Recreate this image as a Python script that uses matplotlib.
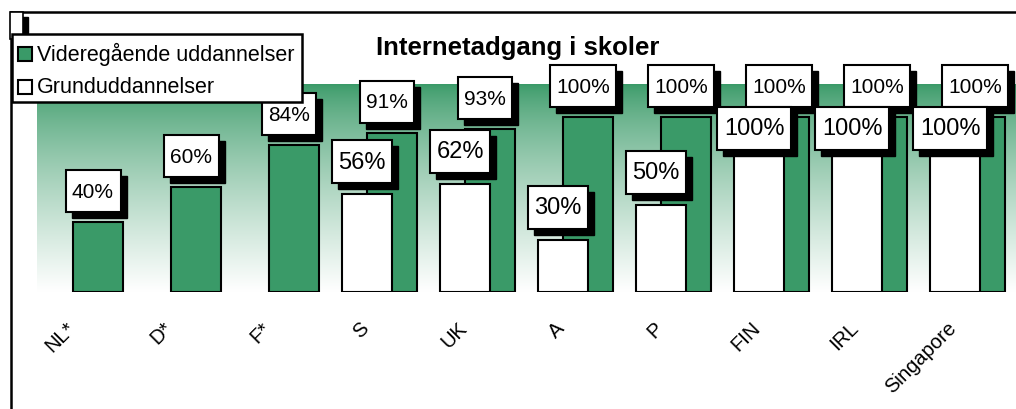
import numpy as np
import matplotlib
matplotlib.use("Agg")
from matplotlib import pyplot as plt
from matplotlib.patches import Rectangle
from matplotlib.lines import Line2D
from matplotlib.transforms import IdentityTransform, ScaledTranslation

plt.rcParams['font.family'] = ['Liberation Sans', 'DejaVu Sans']

lande = ["NL*", "D*", "F*", "S", "UK", "A", "P", "FIN", "IRL", "Singapore"]
videregaaende = [40, 60, 84, 91, 93, 100, 100, 100, 100, 100]
grund = [None, None, None, 56, 62, 30, 50, 100, 100, 100]
serie_navne = ["Videregående uddannelser", "Grunduddannelser"]
titel = "Internetadgang i skoler"

W, H = 1016, 410
groen = "#3a9a68"

def fx(px):
    return px / W

def fy(py):
    return 1 - py / H

fig = plt.figure(figsize=(W / 100, H / 100), dpi=100)
ax = fig.add_axes([fx(36.5), fy(293), 980 / W, 208 / H])
ax.set_xlim(-0.5, 9.5)
ax.set_ylim(0, 119)

# baggrund: groen foroven, hvid forneden
t = np.linspace(0, 1, 256)[:, None] ** 0.75
g = np.array(matplotlib.colors.to_rgb(groen))
grad = (1 - t)[..., None] * g + t[..., None] * np.ones(3)
ax.imshow(grad, extent=[-0.5, 9.5, 0, 119], aspect="auto", zorder=0, origin="upper")

x = np.arange(len(lande))
off = 12.5 / 98
bredde = 50 / 98
ax.bar(x + off, videregaaende, bredde, color=groen, edgecolor="k", linewidth=1.5, zorder=2)
gx = [xi - off for xi, v in zip(x, grund) if v is not None]
gv = [v for v in grund if v is not None]
ax.bar(gx, gv, bredde, color="white", edgecolor="k", linewidth=1.5, zorder=3)

for s in ax.spines.values():
    s.set_visible(False)
ax.set_yticks([])
ax.set_xticks(x)
ax.set_xticklabels(lande, rotation=45, ha="right", va="top", fontsize=14.5)
ax.tick_params(axis="x", length=0, pad=18.5)
for lab in ax.get_xticklabels():
    lab.set_transform(lab.get_transform() + ScaledTranslation(-7 / 100, 0, fig.dpi_scale_trans))

# etiketter
tekster = []
for xi, v in zip(x, videregaaende):
    tt = ax.annotate("%d%%" % v, (xi + off, v), xytext=(-5, 31), textcoords="offset pixels",
                     ha="center", va="center", fontsize=15, zorder=7, annotation_clip=False)
    tekster.append((tt, 5, 11.5))
for xi, v in zip(x, grund):
    if v is None:
        continue
    # fulde hvide soejler har etiketten lagt ned over soejletoppen
    dy = -11 if v == 100 else 32.5
    tt = ax.annotate("%d%%" % v, (xi - off, v), xytext=(-5, dy), textcoords="offset pixels",
                     ha="center", va="center", fontsize=17, zorder=10, annotation_clip=False)
    tekster.append((tt, 8, 10.5))

fig.canvas.draw()
r = fig.canvas.get_renderer()
padx = 6.5
for tt, z, pady in tekster:
    bb = tt.get_window_extent(r)
    x0, y0 = bb.x0 - padx, bb.y0 - pady
    w, h = bb.width + 2 * padx, bb.height + 2 * pady
    ax.add_patch(Rectangle((x0 + 6, y0 - 6), w, h, facecolor="k", edgecolor="k",
                           transform=IdentityTransform(), clip_on=False, zorder=z))
    ax.add_patch(Rectangle((x0, y0), w, h, facecolor="white", edgecolor="k", linewidth=1.5,
                           transform=IdentityTransform(), clip_on=False, zorder=z + 1))

# ramme
fig.add_artist(Line2D([fx(10.5), fx(1020)], [fy(13), fy(13)], color="k", lw=1.8))
fig.add_artist(Line2D([fx(10.5), fx(10.5)], [fy(13), fy(415)], color="k", lw=1.8))

# lille boks oeverst til venstre
fig.add_artist(Rectangle((fx(15), fy(40)), fx(13), 22 / H, facecolor="k", edgecolor="k", zorder=3))
fig.add_artist(Rectangle((fx(10), fy(40)), fx(13), 27 / H, facecolor="white", edgecolor="k",
                         lw=1.2, zorder=4))

# forklaring
fig.add_artist(Rectangle((fx(12), fy(103)), fx(290), 68 / H, facecolor="white", edgecolor="k",
                         lw=1.8, zorder=5))
for i, (navn, farve) in enumerate(zip(serie_navne, [groen, "white"])):
    yc = 54.5 + 33 * i
    fig.add_artist(Rectangle((fx(17.5), fy(yc + 7)), fx(14), 14 / H, facecolor=farve,
                             edgecolor="k", lw=1.5, zorder=6))
    fig.text(fx(37), fy(yc), navn, fontsize=15.5, ha="left", va="center", zorder=7)

fig.text(fx(517.5), fy(47.5), titel, fontsize=18.5, fontweight="bold", ha="center", va="center")

fig.savefig("out.png", dpi=100)
